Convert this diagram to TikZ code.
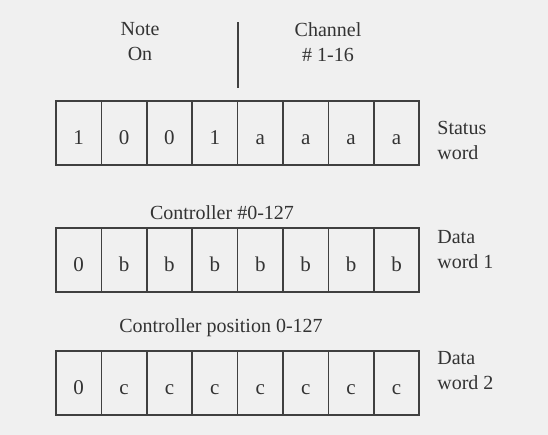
\documentclass[tikz,border=0pt]{standalone}
\usepackage{fontspec}
\setmainfont{Liberation Serif}
\begin{document}
\begin{tikzpicture}[x=0.5pt, y=-0.5pt,
    bitcell/.style={draw=black!75, line width=0.85pt, minimum width=22.7pt,
      minimum height=32pt, inner sep=0pt, text height=2.6ex, text depth=0pt,
      text=black!80, font=\fontsize{10.5}{12}\selectfont},
    wordlabel/.style={align=left, anchor=west, inner sep=0pt, text=black!80,
      font=\fontsize{10}{12.5}\selectfont},
    fieldlabel/.style={align=center, inner sep=0pt, text=black!80,
      font=\fontsize{10}{12.5}\selectfont}]
    \fill[black!6] (0,0) rectangle (548,435);
    \useasboundingbox (0,0) rectangle (548,435);
    % status word
    \foreach \b [count=\i] in {1,0,0,1,a,a,a,a}
        \node[bitcell] (s\i) at ({56+45.4*(\i-0.5)},133) {\b};
    % data word 1
    \foreach \b [count=\i] in {0,b,b,b,b,b,b,b}
        \node[bitcell] (d\i) at ({56+45.4*(\i-0.5)},260) {\b};
    % data word 2
    \foreach \b [count=\i] in {0,c,c,c,c,c,c,c}
        \node[bitcell] (e\i) at ({56+45.4*(\i-0.5)},383) {\b};
    \node[fieldlabel] (noteon) at (140,42) {Note\\On};
    \node[fieldlabel] (channel) at (328,42) {Channel\\\# 1-16};
    \coordinate (divtop) at (238,22);
    \coordinate (divbot) at (238,88);
    \draw[black!75, line width=0.85pt] (divtop) -- (divbot);
    \node[wordlabel] (status) at (437,140) {Status\\word};
    \node[fieldlabel] (ctrlnum) at (222,213) {Controller \#0-127};
    \node[wordlabel] (data1) at (437,250) {Data\\word 1};
    \node[fieldlabel] (ctrlpos) at (221,328) {Controller position 0-127};
    \node[wordlabel] (data2) at (437,371) {Data\\word 2};
\end{tikzpicture}
\end{document}
